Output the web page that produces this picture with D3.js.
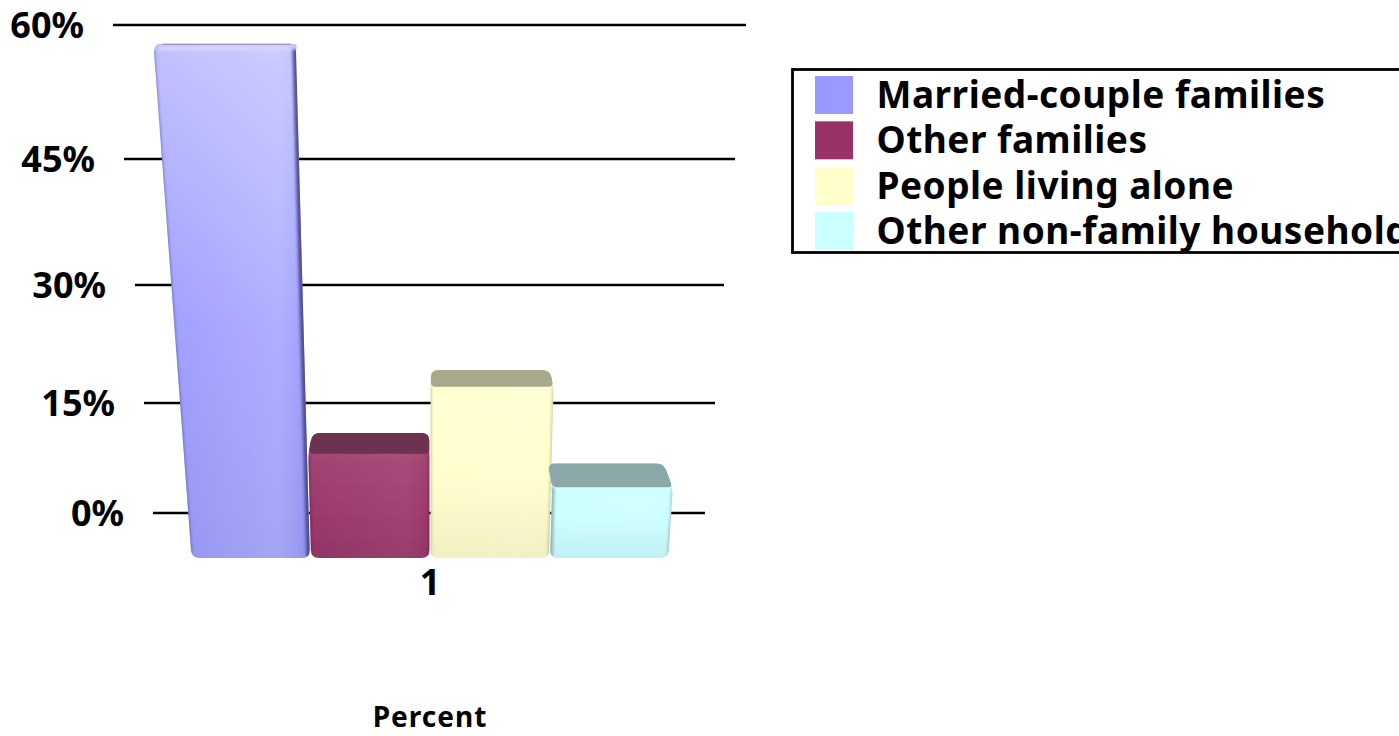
<!DOCTYPE html>
<html><head><meta charset="utf-8">
<style>html,body{margin:0;padding:0;background:#fff;overflow:hidden}svg{display:block}text{font-family:"Noto Sans",sans-serif;font-weight:700;fill:#000}</style>
<script src="https://cdn.jsdelivr.net/npm/d3@7"></script></head>
<body><svg id="c" width="1399" height="736"></svg>
<script>
const seriesNames = ["Married-couple families","Other families","People living alone","Other non-family households"];
const seriesValues = [57.9,10.9,19.2,6.8];
const seriesColors = ["#9999FF","#993366","#FFFFCC","#CCFFFF"];
const tickValues = [0,15,30,45,60];
const categoryLabel = "1";
const axisTitle = "Percent";

const svg = d3.select("#c");
const defs = svg.append("defs");
defs.append("filter").attr("id","soft").attr("x","-5%").attr("y","-5%").attr("width","110%").attr("height","110%")
  .append("feGaussianBlur").attr("stdDeviation",0.5);
defs.append("filter").attr("id","edge").attr("filterUnits","userSpaceOnUse").attr("x",0).attr("y",0).attr("width",1399).attr("height",736)
  .append("feGaussianBlur").attr("stdDeviation",1.8);

const yBack  = d3.scaleLinear().domain(tickValues).range([513,403,285,159,25]);
const yFront = d3.scaleLinear().domain([0,7.5,15,30,45,60]).range([558,480,422,296,170,30]);
const gridLeft  = d3.scaleLinear().domain(tickValues).range([153,144,135,124,113]);
const gridRight = d3.scaleLinear().domain(tickValues).range([705,715,724,735,746]);
const band = d3.scaleBand().domain(seriesNames).range([191,669]);
const lean = d3.scaleLinear().domain([191,310,430,550,669]).range([-38,-14,0,14,32]);
const floorY = yFront(0);
const xAt = (x,y) => x + lean(x)*(floorY-y)/510;
const backX = (x,depth) => x - (x-430)*depth/640;

const grid = svg.append("g");
grid.selectAll("line").data(tickValues).join("line")
  .attr("x1",gridLeft).attr("x2",gridRight).attr("y1",yBack).attr("y2",yBack)
  .attr("stroke","#000").attr("stroke-width",2.6);
grid.selectAll("text").data(tickValues).join("text")
  .attr("x",d=>gridLeft(d)-29).attr("y",d=>yBack(d)+13)
  .attr("text-anchor","end").attr("font-size",36).text(d=>d+"%");

function rounded(pts,r){
  const p=d3.path(), n=pts.length;
  const corner=i=>{
    const c=pts[i], a=pts[(i+n-1)%n], b=pts[(i+1)%n];
    const la=Math.hypot(a[0]-c[0],a[1]-c[1]), lb=Math.hypot(b[0]-c[0],b[1]-c[1]);
    const d=Math.min(r,la/2,lb/2);
    return {c, s:[c[0]+(a[0]-c[0])/la*d,c[1]+(a[1]-c[1])/la*d], e:[c[0]+(b[0]-c[0])/lb*d,c[1]+(b[1]-c[1])/lb*d]};
  };
  const cs=d3.range(n).map(corner);
  cs.forEach((k,i)=>{ if(i===0)p.moveTo(k.s[0],k.s[1]); else p.lineTo(k.s[0],k.s[1]);
    p.quadraticCurveTo(k.c[0],k.c[1],k.e[0],k.e[1]);});
  p.closePath(); return p.toString();
}

const bars = svg.append("g");
seriesNames.forEach((name,i)=>{
  const v=seriesValues[i], base=d3.color(seriesColors[i]);
  const x0=band(name)+0.6, x1=band(name)+band.bandwidth()-0.6;
  const fy=yFront(v), by=yBack(v), depth=fy-by;
  const fl=[xAt(x0,fy),fy], fr=[xAt(x1,fy),fy];
  const bl=[backX(fl[0],depth),by], br=[backX(fr[0],depth),by];
  const dl=[x0,floorY], dr=[x1,floorY];
  const outline=rounded([bl,br,fr,dr,dl,fl],8);
  const g=bars.append("g");
  const clip=`clip${i}`;
  defs.append("clipPath").attr("id",clip).append("path").attr("d",outline);

  const tall=(floorY-fy)/510;
  const vg=defs.append("linearGradient").attr("id",`v${i}`).attr("x1",0).attr("x2",0).attr("y1",0).attr("y2",1);
  const light=i===1?0.03:0.01;
  vg.append("stop").attr("offset",0).attr("stop-color",d3.interpolateRgb(base,"#fff")(light+0.38*tall));
  vg.append("stop").attr("offset",0.55).attr("stop-color",d3.interpolateRgb(base,"#fff")(light+0.04*tall));
  vg.append("stop").attr("offset",1).attr("stop-color",d3.interpolateRgb(base,"#445")(0.08));
  const hg=defs.append("linearGradient").attr("id",`h${i}`);
  const gloss=0.02+0.16*tall;
  hg.append("stop").attr("offset",0).attr("stop-color","#fff").attr("stop-opacity",0);
  hg.append("stop").attr("offset",0.8).attr("stop-color","#fff").attr("stop-opacity",gloss);
  hg.append("stop").attr("offset",1).attr("stop-color","#fff").attr("stop-opacity",0);

  g.append("path").attr("d",outline).attr("fill",`url(#v${i})`).attr("filter","url(#soft)");
  const inner=g.append("g").attr("clip-path",`url(#${clip})`);
  inner.append("path").attr("d",outline).attr("fill",`url(#h${i})`);

  const shade=d3.interpolateRgb(base,"#202050")(0.7);
  const dark=d3.interpolateRgb(base,"#000")(0.45);
  inner.append("line").attr("x1",fr[0]+1).attr("y1",fy).attr("x2",dr[0]+1).attr("y2",floorY)
    .attr("stroke",i===0?shade:dark).attr("stroke-width",i===0?9:4).attr("opacity",i===0?.9:.5).attr("filter","url(#edge)");
  inner.append("line").attr("x1",fl[0]-1).attr("y1",fy).attr("x2",dl[0]-1).attr("y2",floorY)
    .attr("stroke",i===0?shade:dark).attr("stroke-width",i===3?7:3).attr("opacity",.65).attr("filter","url(#edge)");

  if(depth>10){
    inner.append("path").attr("d",rounded([bl,br,[fr[0],fy],[fl[0],fy]],5)).attr("fill",d3.interpolateRgb(base,"#303030")(0.42)).attr("filter","url(#soft)");
    inner.append("line").attr("x1",fl[0]+4).attr("x2",fr[0]-4).attr("y1",fy).attr("y2",fy)
      .attr("stroke",d3.interpolateRgb(base,"#fff")(0.35)).attr("stroke-width",2).attr("filter","url(#soft)");
  } else {
    inner.append("line").attr("x1",fl[0]+6).attr("x2",fr[0]-6).attr("y1",fy-1).attr("y2",fy-1)
      .attr("stroke",d3.interpolateRgb(base,"#fff")(0.6)).attr("stroke-width",4).attr("filter","url(#edge)");
    g.append("line").attr("x1",bl[0]+6).attr("x2",br[0]-6).attr("y1",by+.5).attr("y2",by+.5)
      .attr("stroke","#8a8a9a").attr("stroke-width",1.2);
  }
});

svg.append("text").attr("x",430).attr("y",595).attr("text-anchor","middle").attr("font-size",36).text(categoryLabel);
svg.append("text").attr("x",430).attr("y",727).attr("text-anchor","middle").attr("font-size",28).attr("letter-spacing",1).text(axisTitle);

const legendY = d3.scalePoint().domain(seriesNames).range([76,212]);
const legend = svg.append("g");
legend.append("rect").attr("x",792.5).attr("y",69.5).attr("width",700).attr("height",183).attr("fill","#fff").attr("stroke","#000").attr("stroke-width",2.8);
legend.selectAll("rect.s").data(seriesNames).join("rect").attr("class","s")
  .attr("x",815).attr("y",d=>legendY(d)).attr("width",38).attr("height",38)
  .attr("fill",(d,i)=>seriesColors[i]);
legend.selectAll("text").data(seriesNames).join("text")
  .attr("x",876.5).attr("y",d=>legendY(d)+32).attr("font-size",37).attr("letter-spacing",0.5).text(d=>d);
</script></body></html>
